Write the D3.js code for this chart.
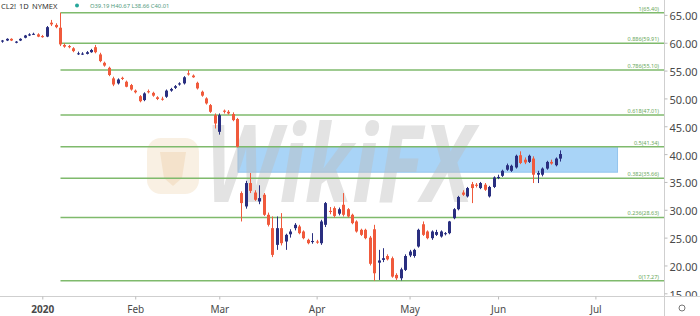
<!DOCTYPE html>
<html>
<head>
<meta charset="utf-8">
<script src="https://cdn.jsdelivr.net/npm/d3@7"></script>
<style>
  html, body { margin: 0; padding: 0; background: #ffffff; }
  svg { display: block; font-family: "Noto Sans", "Open Sans", sans-serif; }
</style>
</head>
<body>
<svg id="chart" width="700" height="316"></svg>
<script>
// ---- data (bar index -9 .. 117, 0 = first session of 2020) ----
const firstBarIndex = -9;
const opens = [60.2,60.4,60.7,60.0,60.4,60.9,61.3,61.5,61.5,
 61.2,61.1,63.6,63.2,62.7,59.6,59.4,59.0,58.0,57.95,
 58.0,58.3,59.2,57.9,56.4,55.5,53.6,52.7,53.7,53.0,
 52.4,51.4,50.4,49.7,51.3,51.0,50.2,49.95,50.3,51.4,
 51.9,52.5,52.7,54.5,54.1,52.8,51.2,50.0,48.8,47.0,
 44.0,47.8,47.6,47.2,46.3,33.0,30.6,34.8,33.1,31.5,
 32.7,29.1,26.7,23.7,26.7,24.3,25.6,26.7,27.0,26.1,
 24.6,24.2,24.3,24.0,27.3,29.8,30.3,29.3,30.9,30.1,
 29.1,27.9,26.4,26.4,25.0,26.5,20.5,21.0,21.7,21.3,
 18.3,17.7,19.2,21.8,21.7,23.4,27.4,26.1,24.9,25.5,
 25.2,25.7,25.8,28.5,30.1,33.1,32.4,34.6,34.5,33.9,
 34.5,32.4,34.1,35.7,36.1,37.2,37.0,37.6,39.8,39.0,
 38.6,39.2,36.3,36.3,37.4,38.6,38.0,39.19];
const highs = [60.5,60.8,60.8,60.3,60.8,61.4,61.7,61.8,61.7,
 61.4,63.0,64.1,63.5,65.4,59.9,59.6,59.2,58.4,58.3,
 58.5,58.9,59.6,58.2,56.6,55.7,53.9,53.6,53.9,53.2,
 52.6,51.6,50.6,51.1,51.6,51.2,50.4,50.3,51.6,51.9,
 52.4,52.9,54.0,55.1,54.3,53.0,51.4,50.2,49.0,47.3,
 47.3,48.0,47.9,47.5,46.5,33.3,35.2,36.6,33.5,34.4,
 33.0,29.5,28.8,28.8,29.4,25.7,26.5,27.6,27.3,26.3,
 24.8,25.8,24.6,28.2,31.4,30.5,30.6,30.4,33.0,30.3,
 29.3,28.1,26.6,26.6,25.3,27.3,22.8,23.1,22.0,21.6,
 18.6,19.6,22.0,22.8,23.0,26.6,27.9,26.3,26.3,26.4,
 26.3,26.0,28.0,30.3,32.5,33.5,34.1,35.0,34.8,35.0,
 34.8,34.3,36.0,36.3,37.2,38.3,38.1,39.9,40.5,39.4,
 39.9,39.6,37.0,37.6,38.8,39.0,39.4,40.67];
const lows = [60.0,60.3,60.3,59.9,60.3,60.8,61.2,61.4,61.0,
 60.9,61.0,63.0,62.6,59.4,59.1,59.0,58.3,57.8,57.8,
 57.9,58.2,58.1,56.5,55.7,54.0,52.2,52.5,53.3,52.0,
 51.4,50.9,49.3,49.5,50.9,50.3,49.7,49.6,50.1,51.2,
 51.7,52.3,52.5,54.1,53.7,51.6,50.3,48.9,47.4,44.6,
 43.5,47.3,47.1,45.9,41.2,27.9,30.2,33.0,31.6,31.0,
 28.9,27.0,21.5,22.8,23.6,22.8,25.0,26.3,25.6,24.7,
 23.8,23.9,23.9,23.7,26.9,29.2,28.6,29.0,28.8,28.6,
 27.4,25.9,25.3,24.7,20.0,17.27,17.4,20.6,20.9,17.8,
 17.4,17.3,19.0,21.5,21.4,23.2,25.3,24.7,24.6,25.3,
 25.0,25.4,25.6,28.3,29.9,32.5,32.2,31.2,34.0,33.7,
 33.4,32.2,33.9,35.5,35.9,37.0,36.8,37.4,38.2,38.2,
 38.4,34.8,34.8,36.0,37.2,38.1,37.8,38.66];
const closes = [60.4,60.7,60.4,60.2,60.7,61.3,61.5,61.6,61.1,
 61.0,62.8,63.3,62.8,59.7,59.3,59.2,58.5,58.1,58.05,
 58.3,58.7,58.3,56.7,55.9,54.2,52.5,53.4,53.5,52.1,
 51.6,51.1,49.5,50.9,51.1,50.5,49.9,49.85,51.4,51.7,
 52.2,52.7,53.8,54.3,53.8,51.8,50.5,49.1,47.6,45.5,
 47.0,47.6,47.3,46.1,41.3,31.2,34.8,33.4,31.8,32.1,
 29.1,27.3,21.9,26.7,24.0,25.5,26.1,27.3,25.8,24.9,
 24.0,24.4,24.1,27.9,31.2,29.6,28.9,30.1,29.1,28.8,
 27.6,26.1,25.5,24.9,20.3,18.6,20.9,21.3,21.1,18.0,
 17.7,19.3,21.7,22.5,22.8,26.4,25.5,24.9,26.1,26.0,
 26.1,25.8,27.9,30.1,32.3,32.7,33.9,33.9,34.3,34.8,
 33.6,34.1,35.8,35.9,37.0,38.0,37.9,39.7,38.4,38.5,
 39.7,36.3,36.6,37.4,38.6,38.3,39.2,40.01];

const fibRatios = ["1", "0.886", "0.786", "0.618", "0.5", "0.382", "0.236", "0"];
const fibPrices = [65.40, 59.91, 55.10, 47.01, 41.34, 35.66, 28.63, 17.27];
const fibStartBar = 4;            // bar of the swing high
const zonePrices = [36.75, 41.34]; // shaded zone low / high
const zoneBars = [44, 130];        // shaded zone start / end bar

const xTickBars = [0, 21, 40, 62, 83, 103, 125];
const xTickLabels = ["2020", "Feb", "Mar", "Apr", "May", "Jun", "Jul"];
const yTickValues = [15, 20, 25, 30, 35, 40, 45, 50, 55, 60, 65];

const symbolParts = ["CL2!", "1D", "NYMEX"];
const ohlcText = "O39.19 H40.67 L38.66 C40.01";

// ---- build ----
const bars = opens.map((o, i) => ({
  idx: firstBarIndex + i, o, h: highs[i], l: lows[i], c: closes[i]
}));

const W = 700, H = 316;
const plotRight = 664, plotBottom = 296;

const x = d3.scaleLinear().domain([0, 117]).range([42.3, 560]);
const y = d3.scaleLinear().domain([15, 65]).range([293.3, 14.9]);

const svg = d3.select("#chart");

svg.append("defs").append("clipPath").attr("id", "plotClip")
  .append("rect").attr("x", 0).attr("y", 0).attr("width", plotRight).attr("height", plotBottom);
svg.select("defs").append("clipPath").attr("id", "yClip")
  .append("rect").attr("x", plotRight).attr("y", 0).attr("width", W - plotRight).attr("height", plotBottom);

const plot = svg.append("g").attr("clip-path", "url(#plotClip)");

// shaded zone
plot.append("rect")
  .attr("x", x(zoneBars[0]) + 1)
  .attr("y", y(zonePrices[1]))
  .attr("width", x(zoneBars[1]) - x(zoneBars[0]) - 1)
  .attr("height", y(zonePrices[0]) - y(zonePrices[1]))
  .attr("fill", "#a9d4f7")
  .attr("stroke", "#93c4ee")
  .attr("stroke-width", 1);

// watermark
const wm = plot.append("g");
wm.append("rect")
  .attr("x", 147).attr("y", 138).attr("width", 52).attr("height", 56)
  .attr("rx", 14).attr("fill", "#f7ecdc").attr("opacity", 0.8);
wm.append("path")
  .attr("d", "M160 152 L186 152 L182 178 L173 186 L164 178 Z")
  .attr("fill", "#f2dfc4").attr("opacity", 0.8);
wm.append("text")
  .attr("x", 205).attr("y", 202)
  .attr("textLength", 268).attr("lengthAdjust", "spacingAndGlyphs")
  .attr("font-size", 108).attr("font-weight", 700).attr("font-style", "italic")
  .attr("fill", "#bdbdbd").attr("opacity", 0.42)
  .text("WikiFX");

// fib lines
const fibG = plot.append("g");
fibPrices.forEach((p, i) => {
  fibG.append("line")
    .attr("x1", x(fibStartBar) + 0.5).attr("x2", plotRight)
    .attr("y1", y(p)).attr("y2", y(p))
    .attr("stroke", "#7fba6c").attr("stroke-width", 1.5);
  fibG.append("text")
    .attr("x", plotRight - 5).attr("y", y(p) - 2)
    .attr("text-anchor", "end")
    .attr("font-size", 5.5)
    .attr("fill", "#6aa85a")
    .text(`${fibRatios[i]}(${p.toFixed(2)})`);
});

// candles
const up = "#2a2f80", down = "#f05a3c";
const cg = plot.append("g");
const bodyW = 3;
cg.selectAll("line.wick").data(bars).join("line")
  .attr("class", "wick")
  .attr("x1", d => Math.round(x(d.idx)) + 0.5)
  .attr("x2", d => Math.round(x(d.idx)) + 0.5)
  .attr("y1", d => y(d.h)).attr("y2", d => y(d.l))
  .attr("stroke", d => d.c >= d.o ? up : down)
  .attr("stroke-width", 1);
cg.selectAll("rect.body").data(bars).join("rect")
  .attr("class", "body")
  .attr("x", d => Math.round(x(d.idx)) - 1)
  .attr("width", bodyW)
  .attr("y", d => y(Math.max(d.o, d.c)))
  .attr("height", d => Math.max(1, Math.abs(y(d.o) - y(d.c))))
  .attr("fill", d => d.c >= d.o ? up : down);

// axes frame
svg.append("line").attr("x1", plotRight + 0.5).attr("x2", plotRight + 0.5)
  .attr("y1", 0).attr("y2", H).attr("stroke", "#cfcfcf");
svg.append("line").attr("x1", 0).attr("x2", W)
  .attr("y1", plotBottom + 0.5).attr("y2", plotBottom + 0.5).attr("stroke", "#cfcfcf");

// y axis (right)
const yAxis = d3.axisRight(y).tickValues(yTickValues).tickFormat(d3.format(".2f"))
  .tickSize(3).tickPadding(2);
const yg = svg.append("g").attr("clip-path", "url(#yClip)")
  .append("g").attr("transform", `translate(${plotRight + 0.5},0)`).call(yAxis);
yg.select(".domain").remove();
yg.selectAll(".tick line").attr("stroke", "#bbbbbb");
yg.selectAll(".tick text").attr("font-size", 11).attr("fill", "#4a4a4a")
  .attr("font-family", "'Noto Sans', sans-serif").attr("dy", "0.45em");

// x axis
const xAxis = d3.axisBottom(x).tickValues(xTickBars)
  .tickFormat((d, i) => xTickLabels[i]).tickSize(3).tickPadding(6);
const xg = svg.append("g").attr("transform", `translate(0,${plotBottom + 0.5})`).call(xAxis);
xg.select(".domain").remove();
xg.selectAll(".tick line").attr("stroke", "#bbbbbb");
xg.selectAll(".tick text").attr("font-size", 10).attr("fill", "#4a4a4a")
  .attr("font-family", "'Noto Sans', sans-serif")
  .attr("font-weight", (d, i) => i === 0 ? 700 : 400);

// settings icon
svg.append("circle").attr("cx", 682).attr("cy", 308).attr("r", 3)
  .attr("fill", "none").attr("stroke", "#777").attr("stroke-width", 1);

// header
const hx = [1, 19, 32];
symbolParts.forEach((t, i) => {
  svg.append("text").attr("x", hx[i]).attr("y", 8.5)
    .attr("font-size", 7.5).attr("fill", "#333").text(t);
});
svg.append("circle").attr("cx", 77).attr("cy", 5.5).attr("r", 2).attr("fill", "#26a69a");
svg.append("text").attr("x", 90).attr("y", 8).attr("font-size", 5.8)
  .attr("fill", "#4f9a7c").text(ohlcText);
</script>
</body>
</html>
